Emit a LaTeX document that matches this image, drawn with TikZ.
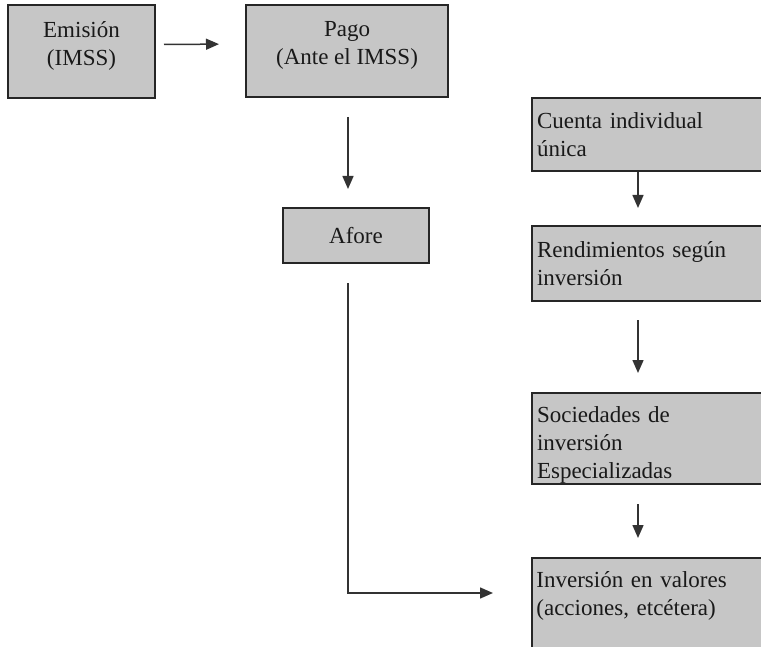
\documentclass[tikz,border=0pt]{standalone}
\usepackage{fontspec}
\setmainfont{Liberation Serif}
\usetikzlibrary{arrows.meta}

\begin{document}
\begin{tikzpicture}[x=0.5pt,y=-0.5pt,
  box/.style={draw=black!85, line width=1pt, fill=gray!45, inner sep=0pt,
    text=black!90, font=\fontsize{11.5}{14}\selectfont, align=center},
  rbox/.style={box, anchor=north west, align=left, inner xsep=2.5pt,
    text width=112.5pt},
  rtext/.style={anchor=north west, inner sep=0pt, align=left, text=black!90,
    text width=112.5pt, font=\fontsize{11.5}{14}\selectfont},
  arr/.style={draw=black!80, line width=0.75pt, -{Triangle[length=6.5pt,width=5.5pt]}}]
\useasboundingbox (0,0) rectangle (761,647);

\node[box, minimum width=73.5pt, minimum height=46.5pt, text depth=8pt] (emision) at (81.5,51.5) {Emisión\\(IMSS)};
\node[box, minimum width=101pt, minimum height=46pt, text depth=8pt] (pago) at (347,51) {Pago\\(Ante el IMSS)};
\node[box, minimum width=73pt, minimum height=27.5pt] (afore) at (356,235.5) {Afore};

\node[rbox, minimum height=36.5pt] (cuenta) at (531,97) {Cuenta individual\\única};
\node[rbox, minimum height=37.5pt] (rend) at (531,225) {Rendimientos según\\inversión};
\node[rbox, minimum height=45.5pt, text height=14pt] (soc) at (531,392) {Sociedades de\\inversión\\Especializadas};
\node[rbox, minimum height=66.5pt] (inv) at (531,557) {};
\node[rtext] (invtext) at ([shift={(5,14)}]inv.north west) {Inversión en valores\\(acciones, etcétera)};

\coordinate (bend) at (348,593);
\coordinate (col) at (638,0);

\draw[arr, shorten <=4pt, shorten >=13pt] ([shift={(0,-7)}]emision.east) -- ([shift={(0,-7)}]pago.west);
\draw[arr, shorten <=9.5pt, shorten >=9pt] (pago.south -| bend) -- (afore.north -| bend);
\draw[arr, shorten <=9.5pt, shorten >=19pt] (afore.south -| bend) |- (inv.west |- bend);

\draw[arr, shorten >=8.5pt] (cuenta.south -| col) -- (rend.north -| col);
\draw[arr, shorten <=9pt, shorten >=9.5pt] (rend.south -| col) -- (soc.north -| col);
\draw[arr, shorten <=9.5pt, shorten >=9.5pt] (soc.south -| col) -- (inv.north -| col);
\end{tikzpicture}
\end{document}
